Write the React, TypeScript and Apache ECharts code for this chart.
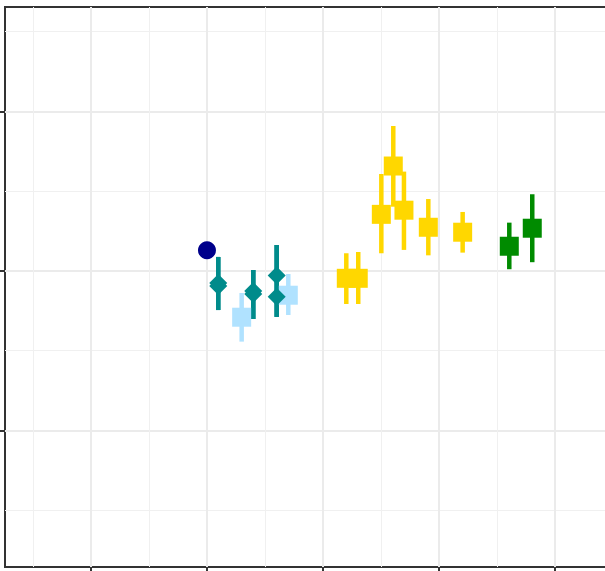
import React, { useEffect, useRef } from "react";
import * as echarts from "echarts";

// Values (x: major grid = 1 unit; y: major grid = 1 unit)
const navyX = [1.0];
const navyY = [0.13];

const tealX = [1.097, 1.097, 1.399, 1.399, 1.601, 1.601];
const tealY = [-0.075, -0.094, -0.125, -0.144, -0.029, -0.161];
const tealLo = [-0.245, -0.245, -0.301, -0.301, -0.288, -0.288];
const tealHi = [0.088, 0.088, 0.006, 0.006, 0.163, 0.163];

const lightX = [1.299, 1.701];
const lightY = [-0.29, -0.152];
const lightLo = [-0.443, -0.276];
const lightHi = [-0.138, -0.019];

const goldX = [2.201, 2.304, 2.503, 2.606, 2.698, 2.908, 3.204];
const goldY = [-0.046, -0.046, 0.355, 0.658, 0.381, 0.274, 0.243];
const goldLo = [-0.207, -0.207, 0.111, 0.403, 0.132, 0.098, 0.115];
const goldHi = [0.111, 0.119, 0.608, 0.909, 0.623, 0.451, 0.37];

const greenX = [3.606, 3.804];
const greenY = [0.155, 0.268];
const greenLo = [0.011, 0.055];
const greenHi = [0.303, 0.481];

const xTicks = [0, 1, 2, 3, 4];
const yTicks = [-1, 0, 1];

const NAVY = "#00008B";
const TEAL = "#008B8B";
const LIGHT = "#B0E2FF";
const GOLD = "#FFD700";
const GREEN = "#008B00";

function barSeries(xs: number[], lo: number[], hi: number[], color: string) {
  return {
    type: "custom",
    silent: true,
    data: xs.map((x, i) => [x, lo[i], hi[i]]),
    renderItem: (params: any, api: any) => {
      const top = api.coord([api.value(0), api.value(2)]);
      const bot = api.coord([api.value(0), api.value(1)]);
      const w = 4.5;
      return {
        type: "rect",
        shape: { x: top[0] - w / 2, y: top[1], width: w, height: bot[1] - top[1] },
        style: { fill: color },
      };
    },
  };
}

function pointSeries(xs: number[], ys: number[], color: string, symbol: string, size: number) {
  return {
    type: "scatter",
    silent: true,
    symbol,
    symbolSize: size,
    itemStyle: { color, opacity: 1 },
    data: xs.map((x, i) => [x, ys[i]]),
  };
}

export default function App() {
  const ref = useRef<HTMLDivElement>(null);
  useEffect(() => {
    if (!ref.current) return;
    const chart = echarts.init(ref.current, null, { renderer: "svg" });
    chart.setOption({
      animation: false,
      backgroundColor: "#ffffff",
      grid: {
        left: 5,
        top: 7,
        right: 2,
        bottom: 4,
        show: true,
        borderColor: "#333333",
        borderWidth: 2,
        backgroundColor: "transparent",
      },
      xAxis: {
        type: "value",
        min: -0.741,
        max: 4.5,
        minInterval: 1,
        maxInterval: 1,
        axisLine: { show: false, onZero: false },
        axisLabel: { show: false },
        axisTick: {
          show: true,
          customValues: xTicks,
          length: 4,
          lineStyle: { color: "#333333", width: 2 },
        },
        splitLine: { show: true, lineStyle: { color: "#ebebeb", width: 2 } },
        minorTick: { show: false, splitNumber: 2 },
        minorSplitLine: { show: true, lineStyle: { color: "#f0f0f0", width: 1 } },
      },
      yAxis: {
        type: "value",
        min: -1.856,
        max: 1.655,
        minInterval: 1,
        maxInterval: 1,
        axisLine: { show: false, onZero: false },
        axisLabel: { show: false },
        axisTick: {
          show: true,
          customValues: yTicks,
          length: 5,
          lineStyle: { color: "#333333", width: 2 },
        },
        splitLine: { show: true, lineStyle: { color: "#ebebeb", width: 2 } },
        minorTick: { show: false, splitNumber: 2 },
        minorSplitLine: { show: true, lineStyle: { color: "#f0f0f0", width: 1 } },
      },
      series: [
        barSeries(lightX, lightLo, lightHi, LIGHT),
        pointSeries(lightX, lightY, LIGHT, "rect", 19),
        barSeries(tealX, tealLo, tealHi, TEAL),
        pointSeries(tealX, tealY, TEAL, "diamond", 18),
        pointSeries(navyX, navyY, NAVY, "circle", 18),
        barSeries(goldX, goldLo, goldHi, GOLD),
        pointSeries(goldX, goldY, GOLD, "rect", 19),
        barSeries(greenX, greenLo, greenHi, GREEN),
        pointSeries(greenX, greenY, GREEN, "rect", 19),
      ],
    });
    return () => chart.dispose();
  }, []);
  return (
    <div
      style={{
        position: "fixed",
        left: 0,
        top: 0,
        width: 605,
        height: 571,
        overflow: "hidden",
        background: "#ffffff",
      }}
    >
      <div ref={ref} style={{ width: 615, height: 571 }} />
    </div>
  );
}
